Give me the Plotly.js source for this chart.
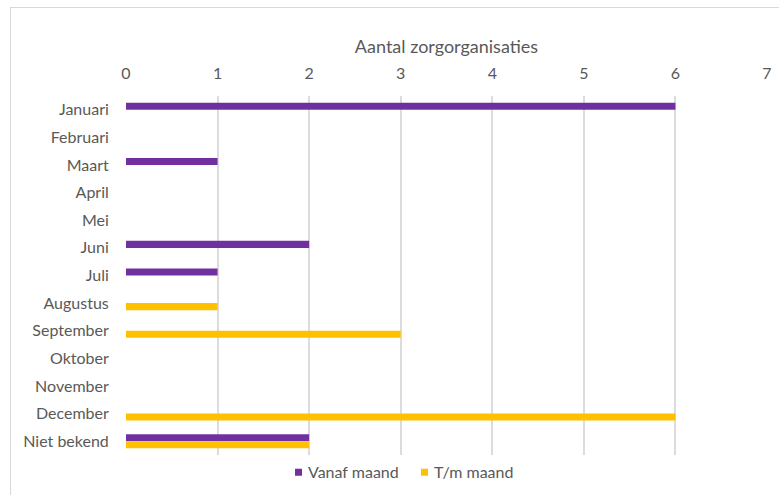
<!DOCTYPE html>
<html>
<head>
<meta charset="utf-8">
<script src="https://cdn.plot.ly/plotly-3.0.1.min.js"></script>
<style>
  html, body { margin: 0; padding: 0; background: #fff; }
  #wrap { position: relative; width: 779px; height: 495px; overflow: hidden; }
  #chart { position: absolute; left: 0; top: 0; width: 779px; height: 495px; }
  #frame { position: absolute; left: 10px; top: 7px; width: 800px; height: 500px;
           border-left: 1.5px solid #d9d9d9; border-top: 1.5px solid #d9d9d9; pointer-events: none; }
</style>
</head>
<body>
<div id="wrap">
  <div id="chart"></div>
  <div id="frame"></div>
</div>
<script>
// Maanden (plus "Niet bekend") en aantallen zorgorganisaties per maand
const maanden = ["Januari", "Februari", "Maart", "April", "Mei", "Juni", "Juli",
                 "Augustus", "September", "Oktober", "November", "December", "Niet bekend"];
const vanafMaand = [6, 0, 1, 0, 0, 2, 1, 0, 0, 0, 0, 0, 2];
const tmMaand    = [0, 0, 0, 0, 0, 0, 0, 1, 3, 0, 0, 6, 2];
const xTicks = [0, 1, 2, 3, 4, 5, 6, 7];

const textColor = "#595959";
const font = { family: "Lato, 'Open Sans', sans-serif", size: 16, color: textColor };
const titleFont = { family: font.family, size: 18, color: textColor };

const traces = [
  { type: "bar", orientation: "h", name: "Vanaf maand", y: maanden, x: vanafMaand,
    marker: { color: "#7030A0" }, hoverinfo: "none" },
  { type: "bar", orientation: "h", name: "T/m maand", y: maanden, x: tmMaand,
    marker: { color: "#FFC000" }, hoverinfo: "none" }
];

const layout = {
  width: 779, height: 495,
  margin: { l: 126, r: 12, t: 96, b: 40 },
  paper_bgcolor: "rgba(0,0,0,0)", plot_bgcolor: "#fff",
  font: font,
  barmode: "group", bargap: 0.49, bargroupgap: 0,
  xaxis: {
    side: "top", range: [0, 7], tickvals: xTicks, ticktext: xTicks.map(String),
    showgrid: true, gridcolor: "#dcdcdc", gridwidth: 2, zeroline: false,
    showline: false, ticks: "outside", ticklen: 10, tickcolor: "rgba(0,0,0,0)",
    tickfont: font, fixedrange: true,
    title: { text: "Aantal zorgorganisaties", font: titleFont, standoff: 4 }
  },
  yaxis: {
    type: "category", autorange: "reversed", showgrid: false, zeroline: false,
    showline: false, ticks: "outside", ticklen: 13, tickcolor: "rgba(0,0,0,0)",
    tickfont: font, fixedrange: true
  },
  showlegend: true,
  legend: {
    orientation: "h", xref: "container", yref: "container",
    x: 0.52, xanchor: "center", y: 0.046, yanchor: "middle",
    font: font, itemwidth: 30, tracegroupgap: 0,
    bgcolor: "rgba(0,0,0,0)"
  }
};

// Legend layout: label start positions (px) and a small square just before each label
const legendTextLeft = [308, 434];
const legendSquare = 7, legendSquareGap = 6;

function parseTranslate(t) {
  const m = /translate\(\s*([-\d.e]+)[ ,]+([-\d.e]+)\s*\)/.exec(t || "");
  return m ? [parseFloat(m[1]), parseFloat(m[2])] : [0, 0];
}

function tidyLegend(gd) {
  const items = gd.querySelectorAll(".legend .traces");
  items.forEach((item, i) => {
    const txt = item.querySelector("text.legendtext");
    if (!txt || legendTextLeft[i] === undefined) return;
    // move the whole item so its label starts where wanted
    const dx = legendTextLeft[i] - txt.getBoundingClientRect().left;
    const [tx, ty] = parseTranslate(item.getAttribute("transform"));
    item.setAttribute("transform", `translate(${tx + dx},${ty})`);
    // shrink the square and put it right before the label
    item.querySelectorAll(".legendpoints path").forEach(p => {
      const base = p.getAttribute("transform") || "";
      const s = legendSquare / 12;
      p.setAttribute("transform", base + ` scale(${s})`);
      const r = p.getBoundingClientRect();
      const want = legendTextLeft[i] - legendSquareGap - legendSquare / 2;
      const shift = want - (r.left + r.width / 2);
      p.setAttribute("transform", base + ` translate(${shift},0) scale(${s})`);
    });
  });
}

Plotly.newPlot("chart", traces, layout, { displayModeBar: false, staticPlot: true })
  .then(gd => tidyLegend(gd));
</script>
</body>
</html>
